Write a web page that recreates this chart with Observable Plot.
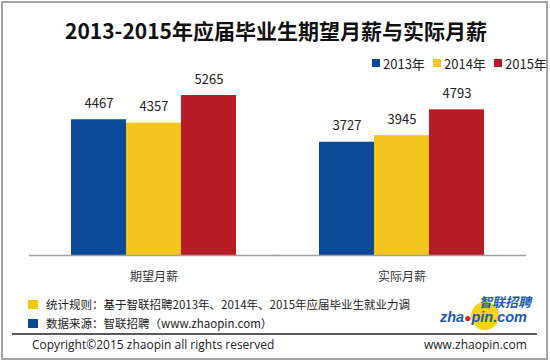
<!DOCTYPE html>
<html>
<head>
<meta charset="utf-8">
<script src="https://cdn.jsdelivr.net/npm/d3@7"></script>
<script src="https://cdn.jsdelivr.net/npm/@observablehq/plot@0.6"></script>
<style>
  html, body { margin: 0; padding: 0; background: #fff; }
  #wrap { position: relative; width: 550px; height: 362px; overflow: hidden; font-family: "Noto Sans CJK SC", "Noto Sans", sans-serif; color: #222; }
  #chart { position: absolute; left: 0; top: 0; }
  .abs { position: absolute; white-space: nowrap; }
  #frame { position: absolute; left: 1px; top: 1px; width: 547px; height: 359px; border: 2px solid #a3a3a3; box-sizing: border-box; pointer-events: none; }
  #title { left: 1px; width: 550px; top: 17px; line-height: 26px; text-align: center; font-size: 21px; font-weight: bold; color: #111; }
  #legend { left: 372px; top: 55px; height: 16px; display: flex; align-items: center; font-size: 13px; color: #222; }
  #legend .item { display: flex; align-items: center; width: 61px; flex: none; }
  #legend .sw { width: 8px; height: 8px; margin-right: 3px; }
  .note { left: 28px; height: 14px; display: flex; align-items: center; font-size: 11.5px; color: #222; }
  .note .sw { width: 10px; height: 9px; margin-right: 8px; }
  #sep { left: 12px; top: 333px; width: 525px; height: 1.5px; background: #5a5a5a; }
  .foot { top: 336px; line-height: 18px; font-size: 12px; color: #222; font-family: "Open Sans", "Noto Sans", sans-serif; }
  #logo1 { left: 479px; top: 295px; font-size: 13px; font-weight: bold; font-style: italic; color: #1a5bb0; line-height: 14px; height: 14px; }
  #logo2 { left: 440px; top: 310px; font-size: 14.5px; font-weight: bold; font-style: italic; color: #1a5bb0; line-height: 14px; height: 14px; font-family: "Liberation Sans", sans-serif; }
  #logo2 .ball { color: #d0202a; font-style: normal; font-size: 12px; }
  #logoCircle { left: 471px; top: 302px; width: 28px; height: 28px; border-radius: 50%; background: #f7d21a; }
</style>
</head>
<body>
<div id="wrap">
  <div id="chart"></div>
  <div id="title" class="abs">2013-2015年应届毕业生期望月薪与实际月薪</div>
  <div id="legend" class="abs"></div>
  <div id="note1" class="abs note" style="top:297px;"><span class="sw" style="background:#f5c800"></span><span>统计规则：基于智联招聘2013年、2014年、2015年应届毕业生就业力调</span></div>
  <div id="note2" class="abs note" style="top:316px;"><span class="sw" style="background:#0a4a97"></span><span>数据来源：智联招聘（www.zhaopin.com）</span></div>
  <div id="logoCircle" class="abs"></div>
  <div id="logo1" class="abs">智联招聘</div>
  <div id="logo2" class="abs">zha<span class="ball">●</span>pin.com</div>
  <div id="sep" class="abs"></div>
  <div class="abs foot" style="left:32px;">Copyright©2015 zhaopin all rights reserved</div>
  <div class="abs foot" style="left:424px;">www.zhaopin.com</div>
  <div id="frame"></div>
</div>
<script>
const categories = ["期望月薪", "实际月薪"];
const years = ["2013年", "2014年", "2015年"];
const salary2013 = [4467, 3727];
const salary2014 = [4357, 3945];
const salary2015 = [5265, 4793];
const colors = ["#0a4a97", "#f3c61f", "#b71c26"];

const series = [salary2013, salary2014, salary2015];
const data = categories.flatMap((cat, i) =>
  years.map((year, j) => ({cat, year, value: series[j][i]}))
);

const chart = Plot.plot({
  width: 550,
  height: 362,
  marginTop: 72.66,
  marginBottom: 107,
  marginLeft: 29.5,
  marginRight: 24.5,
  style: {fontFamily: '"Noto Sans CJK SC", sans-serif', fontSize: "12px", color: "#333", background: "white"},
  fx: {domain: categories, paddingInner: 0.3347, paddingOuter: 0.1674, round: false, label: null, axis: "bottom", tickSize: 0, tickPadding: 17},
  x: {domain: years, padding: 0, round: false, axis: null},
  y: {domain: [0, 6000], axis: null},
  color: {domain: years, range: colors},
  marks: [
    Plot.barY(data, {fx: "cat", x: "year", y: "value", fill: "year"}),
    Plot.ruleY([0], {stroke: "#a0a0a0", strokeWidth: 1.5, insetLeft: -42, insetRight: -42}),
    Plot.text(data, {fx: "cat", x: "year", y: "value", text: d => String(d.value), dy: -16, fontSize: 13, fill: "#222"})
  ]
});
document.getElementById("chart").appendChild(chart);

const legend = document.getElementById("legend");
years.forEach((y, i) => {
  const item = document.createElement("span");
  item.className = "item";
  const sw = document.createElement("span");
  sw.className = "sw";
  sw.style.background = colors[i];
  const t = document.createElement("span");
  t.textContent = y;
  item.appendChild(sw);
  item.appendChild(t);
  legend.appendChild(item);
});
</script>
</body>
</html>
